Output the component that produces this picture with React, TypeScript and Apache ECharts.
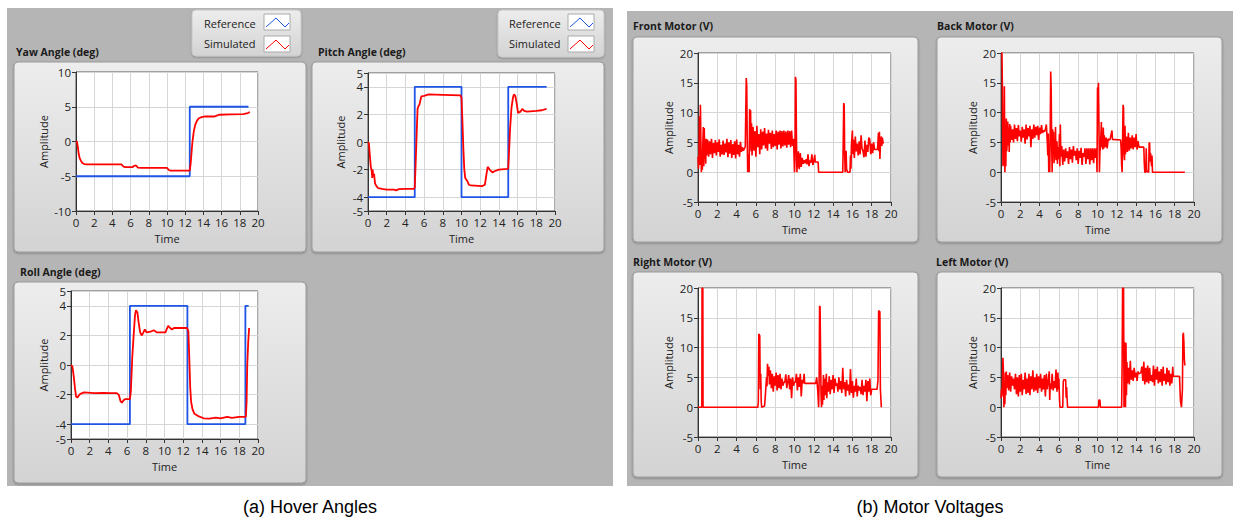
import React, { useEffect, useRef } from "react";
import * as echarts from "echarts";

const RED = "#ff0000";
const BLUE = "#1f55e6";

// ---------- Hover angles ----------
const yawRef = [[0, -5], [12.5, -5], [12.5, 5], [18.95, 5]];
const yawSim = [[0, 0], [0.1, 0], [0.2, -0.8], [0.3, -1.8], [0.4, -2.4], [0.55, -2.8], [0.7, -3.1], [0.9, -3.25], [1.2, -3.3], [3, -3.3], [5.0, -3.3], [5.2, -3.6], [5.4, -3.7], [6.2, -3.7], [6.4, -3.5], [6.6, -3.45], [6.8, -3.75], [7.2, -3.8], [10.0, -3.8], [10.2, -4.1], [10.4, -4.2], [12.5, -4.2], [12.6, -3.2], [12.7, -1.5], [12.8, 0], [12.95, 1.5], [13.1, 2.4], [13.3, 3.0], [13.5, 3.35], [13.8, 3.5], [14.2, 3.6], [15.2, 3.6], [15.4, 3.7], [15.7, 3.85], [17, 3.9], [18.4, 3.95], [18.6, 4.0], [18.9, 4.1], [19.1, 4.25]];

const pitchRef = [[0, -4], [5, -4], [5, 4], [10, 4], [10, -4], [15, -4], [15, 4], [19.1, 4]];
const pitchSim = [[0, 0], [0.1, -0.1], [0.2, -1.0], [0.3, -1.8], [0.4, -2.1], [0.45, -2.6], [0.5, -2.0], [0.57, -2.5], [0.65, -2.3], [0.75, -3.0], [0.9, -3.2], [1.1, -3.35], [1.5, -3.4], [2.0, -3.45], [2.8, -3.45], [3.0, -3.5], [3.3, -3.42], [4.0, -3.4], [4.9, -3.4], [5.0, -3.3], [5.1, -1.5], [5.2, 0.5], [5.3, 2.4], [5.4, 2.6], [5.5, 2.7], [5.6, 3.0], [5.7, 3.3], [6.0, 3.35], [6.5, 3.45], [8, 3.42], [9.9, 3.38], [10.0, 3.2], [10.1, 1.5], [10.2, -0.5], [10.3, -2.0], [10.4, -2.6], [10.6, -2.8], [10.8, -3.1], [11.0, -3.15], [12.2, -3.2], [12.5, -3.1], [12.7, -2.2], [12.8, -1.8], [13.0, -2.0], [13.3, -2.2], [13.6, -2.1], [14.0, -2.0], [14.9, -1.95], [15.0, -1.9], [15.1, -0.5], [15.2, 1.0], [15.35, 2.5], [15.5, 3.2], [15.6, 3.45], [15.75, 3.35], [15.9, 2.8], [16.05, 2.1], [16.3, 2.2], [16.5, 2.4], [16.7, 2.25], [17.0, 2.2], [18.0, 2.25], [18.6, 2.3], [19.1, 2.4]];

const rollRef = [[0, -4], [6.3, -4], [6.3, 4], [12.45, 4], [12.45, -4], [18.65, -4], [18.65, 4], [19.0, 4]];
const rollSim = [[0, 0], [0.15, -0.1], [0.3, -0.8], [0.43, -1.6], [0.55, -2.15], [0.7, -2.2], [0.85, -2.05], [1.0, -1.95], [1.4, -1.85], [2.5, -1.9], [3.5, -1.88], [4.2, -1.9], [4.9, -1.9], [5.1, -2.0], [5.3, -2.45], [5.45, -2.55], [5.6, -2.4], [5.8, -2.3], [6.3, -2.3], [6.4, -1.8], [6.55, 0.5], [6.7, 2.0], [6.85, 3.4], [6.95, 3.7], [7.1, 3.55], [7.25, 2.8], [7.4, 2.2], [7.55, 2.0], [7.7, 2.15], [7.9, 2.4], [8.1, 2.2], [8.5, 2.25], [8.85, 2.35], [9.2, 2.2], [10.1, 2.2], [10.25, 2.45], [10.4, 2.65], [10.6, 2.5], [10.8, 2.4], [11.0, 2.5], [12.4, 2.5], [12.55, 2.3], [12.65, 0.5], [12.75, -1.5], [12.85, -2.5], [13.0, -3.0], [13.2, -3.3], [13.6, -3.45], [14.2, -3.6], [14.8, -3.62], [15.5, -3.55], [16.0, -3.6], [16.7, -3.5], [17.2, -3.58], [18.0, -3.5], [18.7, -3.5], [18.78, -2.5], [18.85, 0], [18.95, 1.5], [19.05, 2.5]];

// ---------- Motor voltages ----------
const frontMotor = [[0, 2.6], [0.05, 0.6], [0.1, 2.4], [0.15, 9.4], [0.2, 1.2], [0.25, 11.3], [0.3, 5.5], [0.35, 0], [0.4, 3.2], [0.45, 0.4], [0.5, 4.8], [0.55, 7.6], [0.6, 1.0], [0.65, 7.4], [0.7, 2.2], [0.75, 5.4], [0.8, 1.4], [0.85, 5.6], [0.9, 2.8],
  [1.0, 5.5], [1.1, 2.6], [1.2, 5.2], [1.3, 3.0], [1.4, 5.6], [1.5, 2.4], [1.6, 4.9], [1.7, 3.2], [1.8, 5.4], [1.9, 2.8], [2.0, 5.0], [2.1, 3.4], [2.2, 5.5], [2.3, 2.6], [2.4, 4.6], [2.5, 3.0], [2.6, 5.3], [2.7, 2.9], [2.8, 4.8], [2.9, 3.3], [3.0, 5.6], [3.1, 2.5], [3.2, 5.0], [3.3, 3.1], [3.4, 5.4], [3.5, 2.4], [3.6, 4.7], [3.7, 2.9], [3.8, 5.2], [3.9, 2.3], [4.0, 5.5], [4.1, 3.0], [4.2, 4.6], [4.3, 2.6], [4.4, 5.1], [4.5, 3.4], [4.6, 4.2], [4.7, 3.6], [4.8, 3.9], [4.9, 4.3],
  [5.0, 15.8], [5.05, 14.5], [5.1, 6], [5.15, 0], [5.25, 3], [5.3, 0], [5.35, 10.6], [5.4, 6], [5.45, 10.4], [5.5, 3.5], [5.55, 8.2], [5.6, 2.8], [5.7, 7.6], [5.8, 3.6], [5.9, 6.9], [6.0, 2.6], [6.1, 7.8], [6.2, 4.2], [6.3, 6.4], [6.4, 3.0], [6.5, 7.2], [6.6, 3.8], [6.7, 6.8], [6.8, 4.5], [6.9, 7.4], [7.0, 4.0], [7.1, 6.5], [7.2, 3.6], [7.3, 7.1], [7.4, 4.8], [7.5, 6.6], [7.6, 3.9], [7.7, 7.0], [7.8, 4.2], [7.9, 6.4], [8.0, 4.4], [8.1, 7.0], [8.2, 3.8], [8.3, 6.8], [8.4, 4.6], [8.5, 7.0], [8.6, 4.0], [8.7, 6.9], [8.8, 4.3], [8.9, 7.0], [9.0, 4.5], [9.1, 6.8], [9.2, 4.1], [9.3, 7.0], [9.4, 4.6], [9.5, 6.9], [9.6, 4.2], [9.7, 7.0], [9.8, 4.4], [9.9, 5.6],
  [10.0, 0], [10.05, 2], [10.1, 16.0], [10.15, 15.5], [10.2, 6], [10.25, 0], [10.3, 2.2], [10.35, 0.8], [10.4, 3.5], [10.5, 0.5], [10.6, 3.2], [10.7, 0.9], [10.8, 2.4], [10.9, 1.4], [11.0, 2.0], [11.1, 1.5], [11.2, 2.2], [11.3, 1.3], [11.4, 3.0], [11.5, 1.0], [11.6, 2.0], [11.7, 1.6], [11.8, 3.0], [11.9, 1.2], [12.0, 1.8], [12.1, 2.9], [12.15, 1.7], [12.45, 1.7], [12.5, 0], [15.0, 0],
  [15.05, 5], [15.1, 11.6], [15.15, 11.2], [15.2, 3], [15.25, 0], [15.35, 3.6], [15.4, 0.5], [15.5, 0], [15.75, 0], [15.8, 2.8], [15.85, 0.6], [15.9, 4.5], [16.0, 7.0], [16.05, 3.0], [16.1, 5.5], [16.2, 2.4], [16.3, 6.0], [16.4, 3.5], [16.5, 4.8], [16.6, 2.8], [16.7, 5.2], [16.8, 3.0], [16.9, 6.2], [17.0, 4.0], [17.1, 3.5], [17.2, 2.5], [17.3, 5.3], [17.4, 2.6], [17.5, 4.6], [17.6, 3.4], [17.7, 5.8], [17.8, 5.5], [17.9, 3.0], [18.0, 4.8], [18.1, 3.2], [18.2, 5.0], [18.3, 3.8], [18.6, 3.8], [18.7, 6.6], [18.75, 3.5], [18.8, 6.8], [18.85, 2.2], [18.9, 4.5], [19.0, 6.0], [19.05, 4.4], [19.1, 5.8], [19.2, 4.8]];

const backMotor = [[0, 20], [0.1, 20], [0.15, 13.8], [0.2, 1.0], [0.25, 6], [0.3, 1.2], [0.35, 14.4], [0.4, 0], [0.45, 3.6], [0.5, 1.0], [0.55, 9.0], [0.6, 3.5], [0.65, 5.4], [0.7, 8.5], [0.75, 4.5], [0.8, 7.5], [0.85, 3.4], [0.9, 8.1], [0.95, 5.0],
  [1.0, 7.8], [1.1, 5.4], [1.2, 7.2], [1.3, 5.0], [1.4, 8.0], [1.5, 5.6], [1.6, 7.4], [1.7, 5.2], [1.8, 7.9], [1.9, 6.0], [2.0, 7.0], [2.1, 5.1], [2.2, 7.6], [2.3, 5.8], [2.4, 7.2], [2.5, 4.8], [2.6, 8.0], [2.7, 5.5], [2.8, 7.4], [2.9, 6.0], [3.0, 7.8], [3.1, 4.2], [3.2, 7.2], [3.3, 5.6], [3.4, 8.0], [3.5, 5.8], [3.6, 7.6], [3.7, 6.2], [3.8, 7.8], [3.9, 5.4], [4.0, 7.5], [4.1, 6.4], [4.2, 7.9], [4.3, 6.6], [4.4, 7.0], [4.5, 6.8], [4.6, 7.2], [4.7, 8.0], [4.8, 5.0], [4.85, 2.8], [4.9, 6.5], [4.95, 0], [5.0, 4], [5.05, 0], [5.1, 6.5],
  [5.15, 16.9], [5.2, 14], [5.25, 5], [5.3, 0], [5.35, 7.2], [5.4, 3.0], [5.45, 6.8], [5.5, 1.5], [5.55, 5.0], [5.6, 2.4], [5.65, 7.6], [5.7, 2.0], [5.8, 5.2], [5.85, 1.4], [5.9, 4.2], [6.0, 2.2], [6.05, 6.4], [6.1, 1.0], [6.15, 8.0], [6.2, 2.6], [6.3, 4.4], [6.4, 1.2], [6.5, 3.8], [6.6, 1.8], [6.7, 4.0], [6.8, 2.4], [6.9, 3.5], [7.0, 1.4], [7.1, 4.2], [7.2, 2.2], [7.3, 3.8], [7.4, 1.6], [7.5, 4.4], [7.6, 2.8], [7.7, 3.6], [7.8, 2.0], [7.9, 4.0], [8.0, 1.4], [8.1, 3.6], [8.2, 2.4], [8.3, 4.1], [8.4, 1.2], [8.5, 3.2], [8.6, 2.6], [8.7, 4.0], [8.8, 1.4], [8.9, 4.0], [9.0, 2.2], [9.1, 4.0], [9.2, 1.3], [9.3, 4.0], [9.4, 2.0], [9.5, 4.0], [9.6, 1.5], [9.7, 4.0], [9.8, 2.4], [9.9, 4.0], [9.95, 0],
  [10.0, 14.2], [10.05, 13.0], [10.1, 15.0], [10.15, 8], [10.2, 0], [10.25, 3.5], [10.3, 4.0], [10.4, 8.4], [10.45, 4.2], [10.5, 6.8], [10.55, 3.8], [10.6, 7.5], [10.65, 4.0], [10.7, 6.2], [10.8, 4.2], [10.9, 5.8], [11.0, 4.0], [11.1, 5.6], [11.2, 5.4], [11.3, 5.5], [11.5, 7.0], [11.55, 5.5], [12.4, 5.4], [12.45, 4], [12.5, 1.2], [12.55, 0],
  [12.6, 5.5], [12.65, 11.3], [12.7, 10.8], [12.75, 3], [12.8, 2.0], [12.85, 7.8], [12.9, 3.0], [13.0, 6.0], [13.1, 3.4], [13.2, 6.6], [13.3, 3.6], [13.4, 5.8], [13.5, 4.0], [13.6, 6.2], [13.7, 3.8], [13.8, 5.8], [13.9, 4.2], [14.0, 6.4], [14.1, 3.8], [14.2, 5.2], [14.3, 4.2], [14.8, 4.2], [14.85, 1.5], [14.9, 0], [15.0, 0], [15.05, 4.0], [15.1, 0.2], [15.3, 0], [15.35, 4.8], [15.4, 5.0], [15.45, 1.8], [15.5, 3.2], [15.6, 1.0], [15.65, 2.8], [15.7, 0], [19.05, 0]];

const rightMotor = [[0, 0], [0.4, 0], [0.42, 20], [0.5, 20], [0.52, 0], [6.2, 0], [6.25, 0.8], [6.3, 12.3], [6.4, 12], [6.45, 3], [6.5, 5.6], [6.55, 1.0], [6.6, 0], [6.9, 0.2], [7.0, 2.5], [7.1, 5.0], [7.15, 3.5], [7.2, 7.3], [7.3, 5.2], [7.35, 6.8], [7.4, 3.8], [7.5, 6.2], [7.6, 3.2], [7.7, 5.6], [7.8, 2.6], [7.9, 5.2], [8.0, 3.6], [8.1, 5.8], [8.2, 2.8], [8.3, 5.4], [8.4, 3.2], [8.5, 5.6], [8.6, 3.0], [8.7, 4.8], [8.8, 3.6], [8.9, 4.2], [9.0, 4.2], [9.1, 5.5], [9.2, 3.2], [9.3, 4.2], [9.4, 5.4], [9.5, 3.0], [9.6, 4.8], [9.7, 1.5], [9.8, 5.0], [9.9, 3.6], [10.0, 4.2], [10.1, 4.2], [10.2, 5.6], [10.3, 2.8], [10.4, 5.0], [10.5, 3.4], [10.6, 5.6], [10.7, 1.8], [10.8, 4.6], [10.9, 4.0], [11.0, 5.6], [11.05, 4.0], [12.2, 4.0], [12.3, 5.0], [12.4, 3.0], [12.5, 0],
  [12.55, 4], [12.6, 17.0], [12.65, 16.8], [12.7, 9.4], [12.75, 2], [12.8, 0], [12.85, 3.6], [12.9, 0.4], [13.0, 5.4], [13.05, 1.2], [13.1, 4.8], [13.2, 2.0], [13.3, 5.6], [13.35, 1.5], [13.4, 4.2], [13.5, 2.6], [13.6, 5.2], [13.7, 2.2], [13.8, 4.6], [13.9, 3.0], [14.0, 5.4], [14.1, 2.4], [14.2, 4.8], [14.3, 3.6], [14.4, 4.0], [14.5, 2.6], [14.6, 5.0], [14.7, 3.0], [14.8, 4.4], [14.9, 2.4], [15.0, 6.6], [15.1, 3.0], [15.2, 4.2], [15.3, 1.8], [15.4, 4.6], [15.5, 2.8], [15.6, 3.8], [15.7, 2.0], [15.8, 6.4], [15.9, 2.4], [16.0, 4.4], [16.1, 1.6], [16.2, 3.6], [16.3, 2.6], [16.4, 4.8], [16.5, 1.8], [16.6, 3.6], [16.7, 2.8], [16.8, 3.4], [16.9, 2.2], [17.0, 4.6], [17.1, 2.0], [17.2, 3.6], [17.3, 2.6], [17.4, 4.6], [17.5, 1.0], [17.6, 4.4], [17.7, 2.6], [17.8, 4.8], [17.9, 2.0], [18.0, 3.0], [18.55, 3.0], [18.65, 4.5], [18.72, 16.2], [18.85, 16.0], [18.9, 3], [19.0, 0]];

const leftMotor = [[0, 1.5], [0.05, 3.0], [0.1, 1.8], [0.15, 4.2], [0.2, 8.3], [0.25, 6.0], [0.3, 0], [0.35, 2.2], [0.4, 0.5], [0.45, 5.8], [0.5, 2.0], [0.55, 6.0], [0.6, 3.2], [0.7, 5.4], [0.8, 2.8], [0.9, 5.8], [1.0, 2.6], [1.1, 5.2], [1.2, 3.6], [1.3, 4.8], [1.4, 3.0], [1.5, 5.6], [1.6, 2.2], [1.7, 5.0], [1.8, 1.8], [1.9, 5.4], [2.0, 2.6], [2.1, 5.6], [2.2, 2.0], [2.3, 4.6], [2.4, 3.0], [2.5, 5.8], [2.6, 2.2], [2.7, 4.8], [2.8, 2.4], [2.9, 5.6], [3.0, 2.0], [3.1, 5.2], [3.2, 3.0], [3.3, 6.2], [3.4, 2.6], [3.5, 5.0], [3.6, 2.8], [3.7, 5.6], [3.8, 2.4], [3.9, 5.2], [4.0, 3.2], [4.1, 5.6], [4.2, 2.6], [4.3, 4.8], [4.4, 3.0], [4.5, 5.4], [4.6, 1.8], [4.7, 5.6], [4.8, 3.0], [4.9, 4.4], [5.0, 6.0], [5.05, 1.2], [5.1, 4.0], [5.2, 3.0], [5.3, 5.6], [5.4, 2.8], [5.5, 4.4], [5.6, 3.2], [5.7, 6.3], [5.8, 2.6], [5.9, 5.8], [5.95, 3.0], [6.0, 4.8], [6.05, 2.0], [6.1, 0], [6.4, 0], [6.45, 4.2], [6.5, 4.6], [6.7, 4.6], [6.75, 1.6], [6.8, 3.4], [6.85, 1.4], [6.9, 0], [10.1, 0], [10.15, 1.2], [10.25, 1.2], [10.3, 0], [12.5, 0],
  [12.55, 7.0], [12.6, 20], [12.7, 20], [12.75, 0], [12.8, 11.0], [12.85, 2], [12.9, 0], [12.95, 10.8], [13.0, 2.0], [13.05, 7.6], [13.1, 4.0], [13.2, 6.6], [13.3, 3.8], [13.4, 7.8], [13.5, 4.6], [13.6, 6.2], [13.7, 4.4], [13.8, 6.6], [13.9, 5.0], [14.0, 5.8], [14.1, 4.4], [14.2, 6.0], [14.3, 5.6], [14.5, 5.8], [14.6, 6.8], [14.7, 4.4], [14.8, 7.6], [14.9, 3.8], [15.0, 6.6], [15.1, 4.2], [15.2, 7.0], [15.3, 4.0], [15.4, 6.6], [15.5, 4.4], [15.6, 5.4], [15.7, 4.2], [15.8, 7.0], [15.9, 3.6], [16.0, 6.4], [16.1, 4.6], [16.2, 6.8], [16.3, 4.0], [16.4, 6.0], [16.5, 4.2], [16.6, 6.4], [16.7, 3.6], [16.8, 6.8], [16.9, 4.4], [17.0, 5.6], [17.1, 3.8], [17.2, 6.6], [17.3, 4.2], [17.4, 6.2], [17.5, 3.6], [17.6, 5.6], [17.7, 4.0], [17.8, 6.8], [17.85, 5.2], [18.5, 5.2], [18.55, 3.0], [18.6, 1.0], [18.7, 0], [18.8, 3.0], [18.85, 12.0], [18.9, 12.5], [18.95, 11.0], [19.0, 8.0], [19.05, 7.0]];

const angleTicks = [-5, -4, -2, 0, 2, 4, 5];
const legendNames = ["Reference", "Simulated"];

const UI_FONT = "Open Sans";

type Panel = {
  title: string; tx: number; ty: number;
  frame: [number, number, number, number];
  grid: [number, number, number, number];
  yMin: number; yMax: number; yInterval?: number; yCustom?: number[];
  yNameGap: number;
  series: { data: number[][]; color: string; width: number }[];
};

const panels: Panel[] = [
  { title: "Yaw Angle (deg)", tx: 16, ty: 52, frame: [14, 62, 292, 190], grid: [76, 72, 182, 139], yMin: -10, yMax: 10, yInterval: 5, yNameGap: 27, series: [{ data: yawRef, color: BLUE, width: 1.8 }, { data: yawSim, color: RED, width: 1.8 }] },
  { title: "Pitch Angle (deg)", tx: 318, ty: 52, frame: [312, 62, 292, 190], grid: [368, 73, 187, 138], yMin: -5, yMax: 5, yCustom: angleTicks, yNameGap: 22, series: [{ data: pitchRef, color: BLUE, width: 1.8 }, { data: pitchSim, color: RED, width: 1.8 }] },
  { title: "Roll Angle (deg)", tx: 20, ty: 272, frame: [14, 282, 292, 201], grid: [71, 291, 187, 148], yMin: -5, yMax: 5, yCustom: angleTicks, yNameGap: 22, series: [{ data: rollRef, color: BLUE, width: 1.8 }, { data: rollSim, color: RED, width: 1.8 }] },
  { title: "Front Motor (V)", tx: 633, ty: 26, frame: [633, 37, 285, 205], grid: [698, 53, 193, 149], yMin: -5, yMax: 20, yInterval: 5, yNameGap: 24, series: [{ data: frontMotor, color: RED, width: 1.6 }] },
  { title: "Back Motor (V)", tx: 937, ty: 26, frame: [937, 37, 285, 205], grid: [1001, 53, 193, 149], yMin: -5, yMax: 20, yInterval: 5, yNameGap: 23, series: [{ data: backMotor, color: RED, width: 1.6 }] },
  { title: "Right Motor (V)", tx: 633, ty: 262, frame: [633, 272, 285, 205], grid: [698, 288, 193, 149], yMin: -5, yMax: 20, yInterval: 5, yNameGap: 24, series: [{ data: rightMotor, color: RED, width: 1.6 }] },
  { title: "Left Motor (V)", tx: 936, ty: 262, frame: [937, 272, 285, 205], grid: [1001, 288, 193, 149], yMin: -5, yMax: 20, yInterval: 5, yNameGap: 23, series: [{ data: leftMotor, color: RED, width: 1.6 }] },
];

const legends = [
  { box: [192, 10, 109, 46], tx: 204, sx: 264 },
  { box: [498, 10, 106, 47], tx: 509, sx: 568 },
];

function buildOption() {
  const grids: any[] = [];
  const xAxes: any[] = [];
  const yAxes: any[] = [];
  const series: any[] = [];
  const graphics: any[] = [];

  graphics.push({ type: "rect", z: -20, shape: { x: 7, y: 8, width: 606, height: 478 }, style: { fill: "#b5b5b5" } });
  graphics.push({ type: "rect", z: -20, shape: { x: 627, y: 11, width: 606, height: 475 }, style: { fill: "#b5b5b5" } });

  const frameFill = { type: "linear", x: 0, y: 0, x2: 0, y2: 1, colorStops: [{ offset: 0, color: "#ededed" }, { offset: 1, color: "#d3d3d3" }] };

  legends.forEach((lg) => {
    const [x, y, w, h] = lg.box;
    graphics.push({ type: "rect", z: -15, shape: { x, y, width: w, height: h, r: 4 }, style: { fill: frameFill, stroke: "#c8c8c8", lineWidth: 1, shadowBlur: 2, shadowColor: "rgba(0,0,0,0.25)", shadowOffsetY: 1 } });
    legendNames.forEach((name, i) => {
      const cy = y + 13 + i * 20;
      graphics.push({ type: "text", z: -10, style: { x: lg.tx, y: cy, text: name, fill: "#222", font: `11px "${UI_FONT}"`, textVerticalAlign: "middle" } });
      const sy = y + 4 + i * 22;
      graphics.push({ type: "rect", z: -10, shape: { x: lg.sx, y: sy, width: 26, height: 16 }, style: { fill: "#ffffff", stroke: "#aaaaaa", lineWidth: 1 } });
      graphics.push({ type: "polyline", z: -9, shape: { points: [[lg.sx + 2, sy + 13], [lg.sx + 12, sy + 4], [lg.sx + 21, sy + 13], [lg.sx + 25, sy + 9]] }, style: { stroke: i === 0 ? BLUE : RED, lineWidth: 1, fill: "none" } });
    });
  });

  panels.forEach((p, idx) => {
    const [fx, fy, fw, fh] = p.frame;
    graphics.push({ type: "rect", z: -15, shape: { x: fx, y: fy, width: fw, height: fh, r: 4 }, style: { fill: frameFill, stroke: "#9c9c9c", lineWidth: 1, shadowBlur: 2, shadowColor: "rgba(0,0,0,0.3)", shadowOffsetY: 1 } });
    graphics.push({ type: "text", z: -10, style: { x: p.tx, y: p.ty, text: p.title, fill: "#1a1a1a", font: `bold 10.5px "${UI_FONT}"`, textVerticalAlign: "middle" } });

    const [gl, gt, gw, gh] = p.grid;
    grids.push({ left: gl, top: gt, width: gw, height: gh, show: true, backgroundColor: "#ffffff", borderColor: "#555555", borderWidth: 1 });
    xAxes.push({
      type: "value", gridIndex: idx, min: 0, max: 20, interval: 2,
      name: "Time", nameLocation: "middle", nameGap: 22,
      nameTextStyle: { fontFamily: UI_FONT, fontSize: 11, color: "#222" },
      axisLine: { show: true, onZero: false, lineStyle: { color: "#333", width: 1 } },
      axisTick: { show: true, inside: false, length: 4, lineStyle: { color: "#333" } },
      axisLabel: { fontFamily: UI_FONT, fontSize: 11.5, color: "#222", margin: 5 },
      splitLine: { show: true, lineStyle: { color: "#d6d6d6", width: 1 } },
    });
    const y: any = {
      type: "value", gridIndex: idx, min: p.yMin, max: p.yMax,
      name: "Amplitude", nameLocation: "middle", nameGap: p.yNameGap, nameRotate: 90,
      nameTextStyle: { fontFamily: UI_FONT, fontSize: 11, color: "#222" },
      axisLine: { show: true, onZero: false, lineStyle: { color: "#333", width: 1 } },
      axisTick: { show: true, inside: false, length: 4, lineStyle: { color: "#333" } },
      axisLabel: { fontFamily: UI_FONT, fontSize: 11.5, color: "#222", margin: 5 },
      splitLine: { show: true, lineStyle: { color: "#d6d6d6", width: 1 } },
    };
    if (p.yInterval) y.interval = p.yInterval;
    if (p.yCustom) {
      y.axisTick.customValues = p.yCustom;
      y.axisLabel.customValues = p.yCustom;
    }
    yAxes.push(y);

    p.series.forEach((s) => {
      series.push({
        type: "line", xAxisIndex: idx, yAxisIndex: idx, data: s.data,
        showSymbol: false, symbol: "none", clip: true,
        lineStyle: { color: s.color, width: s.width }, itemStyle: { color: s.color },
      });
    });
  });

  graphics.push({ type: "text", style: { x: 310, y: 507, text: "(a) Hover Angles", fill: "#000", font: `18px "Liberation Sans"`, textAlign: "center", textVerticalAlign: "middle" } });
  graphics.push({ type: "text", style: { x: 930, y: 507, text: "(b) Motor Voltages", fill: "#000", font: `18px "Liberation Sans"`, textAlign: "center", textVerticalAlign: "middle" } });

  return {
    animation: false,
    backgroundColor: "#ffffff",
    grid: grids,
    xAxis: xAxes,
    yAxis: yAxes,
    series,
    graphic: { elements: graphics },
  };
}

export default function App() {
  const ref = useRef<HTMLDivElement>(null);
  useEffect(() => {
    if (!ref.current) return;
    const chart = echarts.init(ref.current, undefined, { renderer: "svg" });
    chart.setOption(buildOption() as any);
    return () => chart.dispose();
  }, []);
  return <div ref={ref} style={{ position: "absolute", left: 0, top: 0, width: 1233, height: 519 }} />;
}
